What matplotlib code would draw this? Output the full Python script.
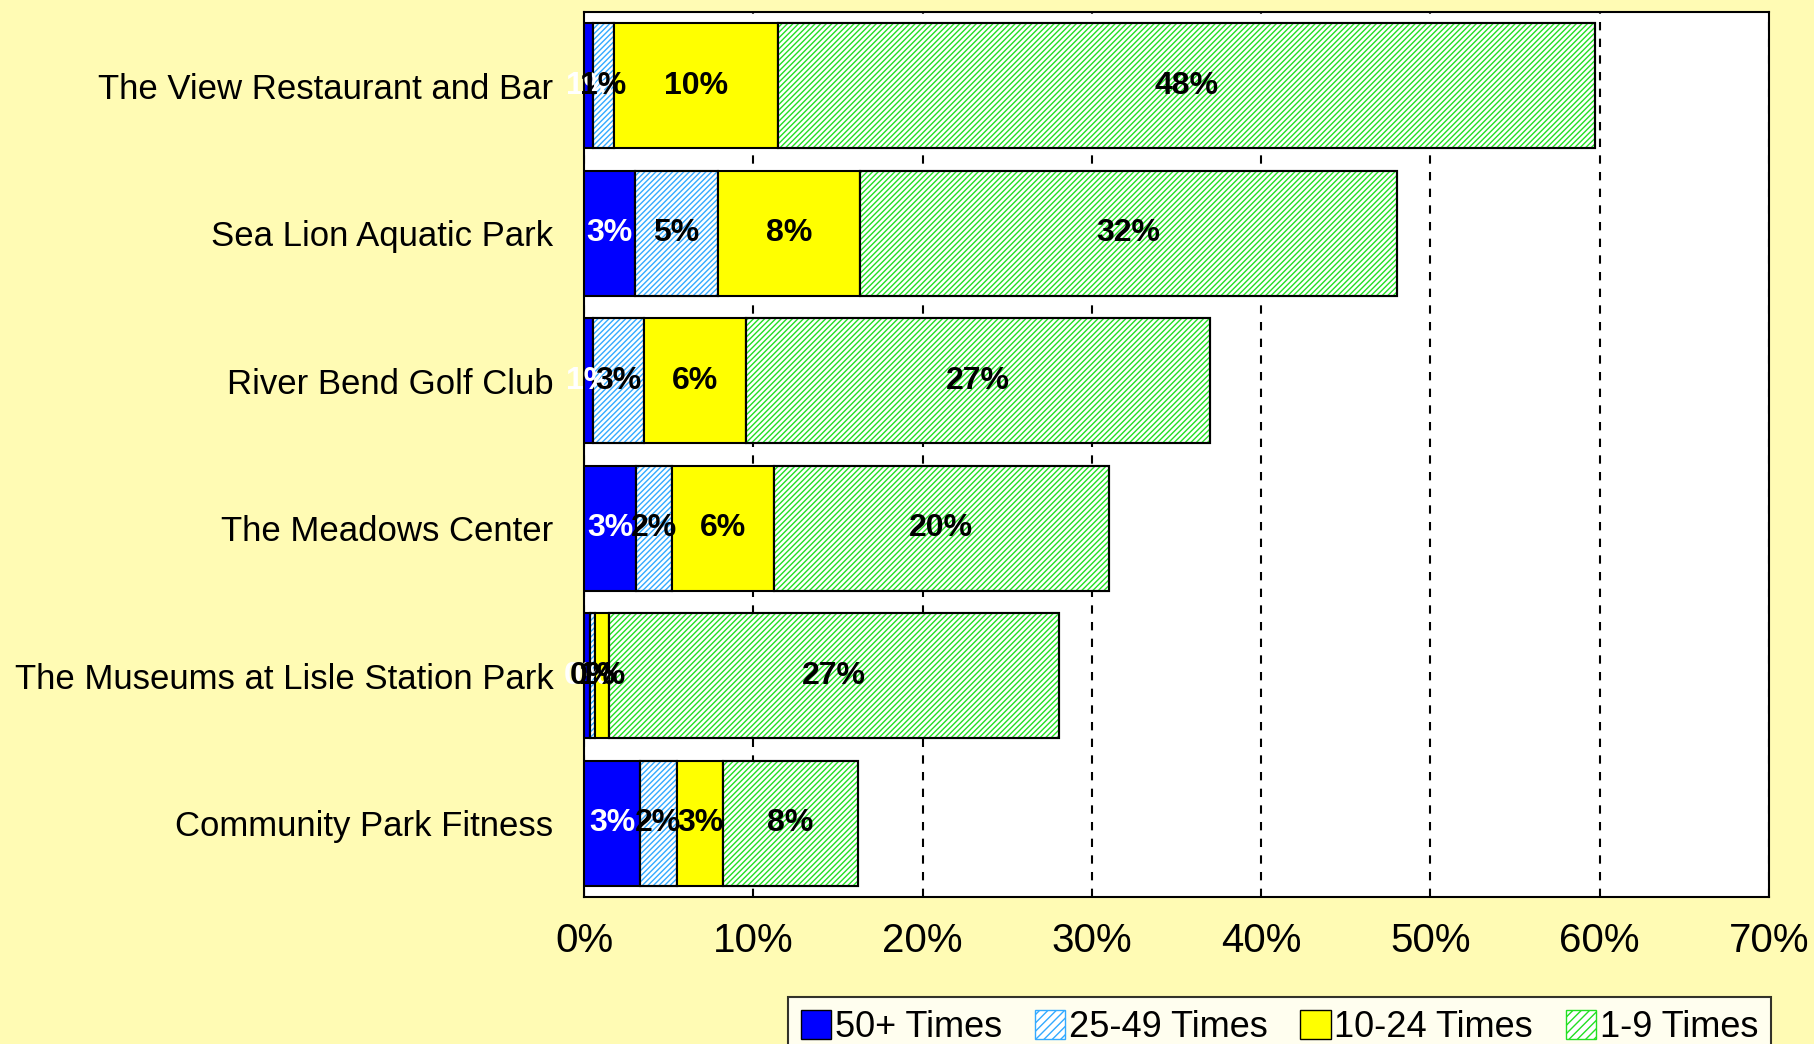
import matplotlib
matplotlib.use("Agg")
from matplotlib import pyplot as plt
from matplotlib.patches import Patch
import numpy as np

plt.rcParams['font.family'] = ['Liberation Sans', 'DejaVu Sans']
plt.rcParams['hatch.linewidth'] = 1.0

# data (percent), top to bottom
venues = ["The View Restaurant and Bar", "Sea Lion Aquatic Park", "River Bend Golf Club",
          "The Meadows Center", "The Museums at Lisle Station Park", "Community Park Fitness"]
times_50 = [0.55, 3.0, 0.55, 3.1, 0.35, 3.3]
times_25 = [1.2, 4.9, 3.0, 2.1, 0.3, 2.2]
times_10 = [9.7, 8.4, 6.0, 6.0, 0.8, 2.7]
times_1 = [48.3, 31.7, 27.4, 19.8, 26.6, 8.0]
series_names = ["50+ Times", "25-49 Times", "10-24 Times", "1-9 Times"]
xticks = [0, 10, 20, 30, 40, 50, 60, 70]

bg = '#FFFBB4'
fig = plt.figure(figsize=(18.14, 10.44), dpi=100, facecolor=bg)
ax = fig.add_axes([584/1814, 1 - 897/1044, (1769-584)/1814, (897-12)/1044])
ax.set_facecolor('white')

y = np.arange(len(venues))
series = [times_50, times_25, times_10, times_1]
faces = ['#0000FF', 'white', '#FFFF00', 'white']
hatch_cols = [None, '#33AAFF', None, '#22E022']
hatches = [None, '//////', None, '//////']
text_cols = ['white', 'black', 'black', 'black']

left = np.zeros(len(venues))
for vals, fc, hc, h, tc, name in zip(series, faces, hatch_cols, hatches, text_cols, series_names):
    vals = np.array(vals)
    ax.barh(y, vals, left=left, height=0.85, color=fc, edgecolor='black',
            linewidth=1.5, zorder=3)
    if h:
        # coloured hatch, then black outline on top
        ax.barh(y, vals, left=left, height=0.85, color='none', edgecolor=hc,
                hatch=h, linewidth=0, zorder=3)
        ax.barh(y, vals, left=left, height=0.85, color='none', edgecolor='black',
                linewidth=1.5, zorder=3)
    for yi, l, v in zip(y, left, vals):
        ax.text(l + v / 2, yi, f"{v:.0f}%", ha='center', va='center', color=tc,
                fontsize=23, fontweight='bold', zorder=5)
    left = left + vals

ax.set_xlim(0, 70)
ax.set_ylim(len(venues) - 0.5, -0.5)
ax.set_yticks(y)
ax.set_yticklabels(venues, fontsize=25)
ax.set_xticks(xticks)
ax.set_xticklabels([f"{t}%" for t in xticks], fontsize=29)
ax.tick_params(axis='y', length=0, pad=22)
ax.tick_params(axis='x', length=0, pad=18)
ax.grid(axis='x', color='black', linestyle=(0, (4, 4)), linewidth=1.5, zorder=1)
for s in ax.spines.values():
    s.set_linewidth(1.5)

# legend
proxies = []
for fc, hc, h, name in zip(faces, hatch_cols, hatches, series_names):
    if h:
        proxies.append(Patch(facecolor='white', edgecolor=hc, hatch='////', label=name))
    else:
        proxies.append(Patch(facecolor=fc, edgecolor='black', label=name))
leg = fig.legend(handles=proxies, loc='upper left', bbox_to_anchor=(788/1814, 1 - 997/1044),
                 ncol=4, fontsize=26, frameon=True, fancybox=False, edgecolor='black',
                 handlelength=0.85, handleheight=0.85, handletextpad=0.1, columnspacing=0.9,
                 borderpad=0.35, borderaxespad=0)
leg.get_frame().set_linewidth(1.5)

fig.savefig("out.png", dpi=100, facecolor=bg)
